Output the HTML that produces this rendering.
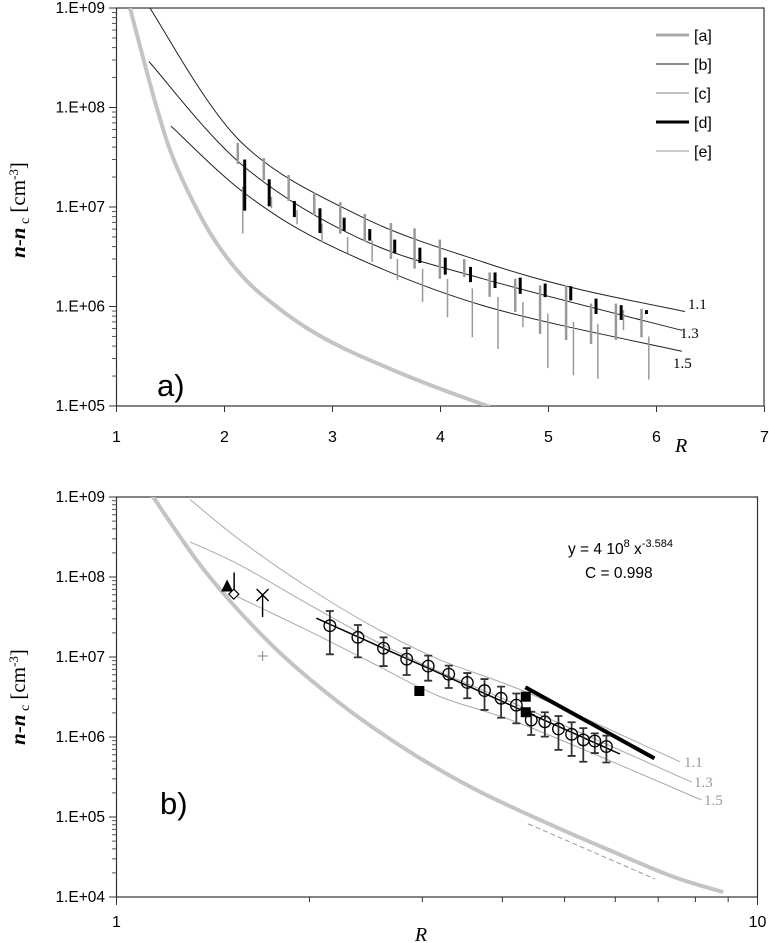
<!DOCTYPE html>
<html><head><meta charset="utf-8"><style>
html,body{margin:0;padding:0;background:#fff;}
svg{display:block;font-family:"Liberation Sans",sans-serif;}
</style></head><body>
<svg id="chart" width="769" height="943" viewBox="0 0 769 943" xmlns="http://www.w3.org/2000/svg">
<defs>
<clipPath id="clipA"><rect x="116.5" y="8" width="647.5" height="398"/></clipPath>
<clipPath id="clipB"><rect x="116.5" y="497" width="641" height="400"/></clipPath>
</defs>
<g id="panelA"></g>
<g id="panelB"></g>
</svg>
<script>
// ---------- Panel a data ----------
const aGrayR = [1.125,1.372,1.557,1.866,2.171,2.483,2.792,3.097,3.409,3.718,4.023,4.458];
const aGrayV = [1.0e9,1.0e8,2.54e7,5.5e6,1.98e6,9.95e5,5.8e5,3.83e5,2.7e5,1.95e5,1.45e5,9.8e4];
const a11R = [1.292,2.144,3.255,4.394,5.273,6.264];
const a11V = [1.07e9,4.6e7,8.1e6,2.8e6,1.5e6,8.9e5];
const a13R = [1.30,2.171,3.255,4.394,6.236];
const a13V = [2.9e8,2.6e7,4.8e6,1.9e6,5.75e5];
const a15R = [1.505,2.208,3.042,4.394,6.236];
const a15V = [6.5e7,1.32e7,3.8e6,1.02e6,3.55e5];
const dR = [2.187,2.414,2.647,2.884,3.108,3.345,3.576,3.809,4.044,4.278,4.505,4.738,4.969,5.206,5.44,5.673,5.907];
const dHi = [3.0e7,1.9e7,1.15e7,9.7e6,7.8e6,6.0e6,4.7e6,3.9e6,3.1e6,2.5e6,2.2e6,1.95e6,1.7e6,1.6e6,1.2e6,1.03e6,9.2e5];
const dLo = [9.4e6,1.04e7,8.1e6,5.6e6,5.9e6,4.7e6,3.5e6,2.8e6,2.14e6,1.8e6,1.57e6,1.37e6,1.27e6,1.18e6,8.6e5,7.5e5,8.6e5];
const cR = [2.123,2.364,2.594,2.831,3.072,3.299,3.541,3.76,3.994,4.22,4.455,4.692,4.922,5.163,5.394,5.624,5.861];
const cHi = [4.4e7,3.1e7,2.1e7,1.39e7,1.12e7,8.5e6,6.9e6,6.1e6,4.7e6,3.0e6,2.2e6,1.9e6,1.63e6,1.63e6,1.07e6,1.07e6,9.5e5];
const cLo = [2.7e7,1.86e7,1.15e7,8.3e6,5.4e6,4.5e6,3.0e6,2.4e6,1.9e6,1.98e6,1.25e6,8.8e5,5.3e5,4.6e5,4.2e5,4.6e5,4.9e5];
const eR = [2.169,2.435,2.672,2.903,3.14,3.367,3.601,3.834,4.065,4.295,4.532,4.763,4.994,5.231,5.457,5.694,5.929];
const eHi = [1.6e7,1.26e7,9.3e6,6.8e6,5.0e6,4.6e6,3.0e6,2.4e6,1.9e6,1.52e6,1.25e6,1.11e6,8.5e5,7.0e5,6.7e5,9.2e5,5.0e5];
const eLo = [5.4e6,9.7e6,6.7e6,4.4e6,3.45e6,2.8e6,1.84e6,1.11e6,7.8e5,4.9e5,3.75e5,6.2e5,2.4e5,2.03e5,1.88e5,5.8e5,1.84e5];
const aXTicks = [1,2,3,4,5,6,7];
const aYTicks = [1e5,1e6,1e7,1e8,1e9];
const aYLabels = ["1.E+05","1.E+06","1.E+07","1.E+08","1.E+09"];
const legendLabels = ["[a]","[b]","[c]","[d]","[e]"];

// ---------- Panel b data ----------
const bGrayR = [1.135,1.383,1.757,2.232,2.836,3.603,4.578,5.817,7.391,8.845];
const bGrayV = [1.06e9,1.11e8,1.35e7,2.63e6,6.9e5,2.28e5,9.2e4,3.98e4,1.79e4,1.15e4];
const b11R = [1.302,1.558,1.98,2.515,3.196,4.37,7.57];
const b11V = [9.3e8,2.9e8,7.6e7,2.39e7,9.2e6,3.6e6,4.9e5];
const b13R = [1.302,1.558,1.98,2.515,3.196,4.37,7.90];
const b13V = [2.75e8,1.41e8,4.7e7,1.63e7,6.5e6,2.24e6,2.72e5];
const b15R = [1.524,1.98,2.515,3.196,4.37,8.18];
const b15V = [5.96e7,2.18e7,8.3e6,3.2e6,1.37e6,1.63e5];
const circR = [2.152,2.38,2.61,2.836,3.064,3.298,3.526,3.751,3.981,4.205,4.436,4.658,4.892,5.129,5.348,5.574,5.811];
const circV = [2.46e7,1.76e7,1.29e7,9.4e6,7.7e6,6.1e6,4.8e6,3.8e6,3.05e6,2.5e6,1.63e6,1.55e6,1.26e6,1.08e6,9.2e5,8.9e5,7.6e5];
const circHi = [3.76e7,2.51e7,1.76e7,1.29e7,1.04e7,7.8e6,6.3e6,5.3e6,4.26e6,3.5e6,2.07e6,2.04e6,1.83e6,1.53e6,1.29e6,1.11e6,1.04e6];
const circLo = [1.08e7,9.9e6,7.7e6,5.96e6,5.06e6,4.1e6,3.05e6,2.18e6,1.74e6,1.48e6,1.06e6,1.01e6,6.9e5,5.8e5,4.9e5,6.3e5,4.8e5];
const fitCoef = 4e8;
const fitExp = -3.584;
const fitRange = [2.05,6.1];
const thickR = [4.343,6.906];
const thickV = [4.18e6,5.4e5];
const squareR = [2.968,4.35,4.35];
const squareV = [3.76e6,3.19e6,2.04e6];
const triR = [1.488]; const triV = [7.6e7];
const diaR = [1.524]; const diaV = [6.1e7];
const crossR = [1.69]; const crossV = [5.96e7];
const plusR = [1.69]; const plusV = [1.03e7];
const dashR = [4.39,6.92]; const dashV = [8.2e4,1.68e4];
const bYTicks = [1e4,1e5,1e6,1e7,1e8,1e9];
const bYLabels = ["1.E+04","1.E+05","1.E+06","1.E+07","1.E+08","1.E+09"];

// ---------- axes ----------
const L = Math.log10;
const xA = r => 116.5 + (r-1)*108;
const yA = v => 8 + (9-L(v))*99.5;
const xB = r => 116.5 + L(r)*641;
const yB = v => 497 + (9-L(v))*80;
const NS = "http://www.w3.org/2000/svg";
function mk(parent, tag, attrs, text){
  const e = document.createElementNS(NS, tag);
  for (const k in attrs) e.setAttribute(k, attrs[k]);
  if (text !== undefined) e.textContent = text;
  parent.appendChild(e);
  return e;
}
function spline(pts){
  let d = "M"+pts[0][0].toFixed(1)+","+pts[0][1].toFixed(1);
  for (let i=0;i<pts.length-1;i++){
    const p0=pts[Math.max(0,i-1)], p1=pts[i], p2=pts[i+1], p3=pts[Math.min(pts.length-1,i+2)];
    const c1=[p1[0]+(p2[0]-p0[0])/6, p1[1]+(p2[1]-p0[1])/6];
    const c2=[p2[0]-(p3[0]-p1[0])/6, p2[1]-(p3[1]-p1[1])/6];
    d += " C"+c1[0].toFixed(1)+","+c1[1].toFixed(1)+" "+c2[0].toFixed(1)+","+c2[1].toFixed(1)+" "+p2[0].toFixed(1)+","+p2[1].toFixed(1);
  }
  return d;
}
function curve(g, R, V, fx, fy, stroke, w, name){
  const pts = R.map((r,i)=>[fx(r), fy(V[i])]);
  const p = mk(g, "path", {d: spline(pts), fill:"none", stroke: stroke, "stroke-width": w});
  
  
  return p;
}
const yTitleHTML = '<tspan font-style="italic" font-weight="bold">n</tspan>-<tspan font-style="italic" font-weight="bold">n</tspan><tspan font-size="14" dy="4"> c</tspan><tspan dy="-4">  [cm</tspan><tspan font-size="13" dy="-7">-3</tspan><tspan dy="7">]</tspan>';

// ---------- Panel a ----------
const A = document.getElementById("panelA");
const frameA = mk(A, "rect", {x:116.5,y:8,width:647.5,height:398,fill:"none",stroke:"#333","stroke-width":1.2});


aYTicks.forEach((t,i)=>{
  const y = yA(t);
  const tk = mk(A,"line",{x1:109,x2:116.5,y1:y,y2:y,stroke:"#333"});
  
  
  const lb = mk(A,"text",{x:105,y:y+5,"text-anchor":"end","font-size":15.5,fill:"#000"}, aYLabels[i]);
  
  
  if (i < aYTicks.length-1) for (let m=2;m<10;m++){
    const ym = yA(t*m);
    const mt = mk(A,"line",{x1:112,x2:116.5,y1:ym,y2:ym,stroke:"#555"});
    
    
  }
});
aXTicks.forEach(t=>{
  const x = xA(t);
  const tk = mk(A,"line",{x1:x,x2:x,y1:406,y2:412,stroke:"#333"});
  
  
  const lb = mk(A,"text",{x:x,y:442,"text-anchor":"middle","font-size":16}, String(t));
  
  
});
const gA = mk(A,"g",{"clip-path":"url(#clipA)"});


curve(gA, aGrayR, aGrayV, xA, yA, "#c4c4c4", 4, "curve-a-limit");
curve(gA, a11R, a11V, xA, yA, "#222", 1, "curve-1-1");
curve(gA, a13R, a13V, xA, yA, "#222", 1, "curve-1-3");
curve(gA, a15R, a15V, xA, yA, "#222", 1, "curve-1-5");
eR.forEach((r,i)=>{
  const b = mk(gA,"line",{x1:xA(r),x2:xA(r),y1:yA(eHi[i]),y2:yA(eLo[i]),stroke:"#9a9a9a","stroke-width":1.5});
  
  
});
cR.forEach((r,i)=>{
  const b = mk(gA,"line",{x1:xA(r),x2:xA(r),y1:yA(cHi[i]),y2:yA(cLo[i]),stroke:"#999","stroke-width":2.5});
  
  
});
dR.forEach((r,i)=>{
  const b = mk(gA,"line",{x1:xA(r),x2:xA(r),y1:yA(dHi[i]),y2:yA(dLo[i])+1,stroke:"#000","stroke-width":3});
  
  
});
[["1.1",688,309],["1.3",680,338],["1.5",673,368]].forEach(l=>{
  const t = mk(A,"text",{x:l[1],y:l[2],"font-family":"Liberation Serif, serif","font-size":15}, l[0]);
  
  
});
const legStyles = [["#aaa",3],["#666",1.5],["#aaa",1.5],["#000",3],["#aaa",1.2]];
legendLabels.forEach((s,i)=>{
  const y = 35 + i*29;
  const ln = mk(A,"line",{x1:656,x2:689,y1:y,y2:y,stroke:legStyles[i][0],"stroke-width":legStyles[i][1]});
  
  
  const t = mk(A,"text",{x:694,y:y+6,"font-size":16}, s);
  
  
});
const labA = mk(A,"text",{x:157,y:396,"font-size":31}, "a)");


const xtA = mk(A,"text",{x:675,y:452,"font-family":"Liberation Serif, serif","font-style":"italic","font-size":20}, "R");


const ytA = mk(A,"text",{transform:"translate(25,210) rotate(-90)","text-anchor":"middle","font-family":"Liberation Serif, serif","font-size":21});


ytA.innerHTML = yTitleHTML;

// ---------- Panel b ----------
const B = document.getElementById("panelB");
const frameB = mk(B, "rect", {x:116.5,y:497,width:641,height:400,fill:"none",stroke:"#333","stroke-width":1.2});


bYTicks.forEach((t,i)=>{
  const y = yB(t);
  const tk = mk(B,"line",{x1:109,x2:116.5,y1:y,y2:y,stroke:"#333"});
  
  
  const lb = mk(B,"text",{x:105,y:y+5,"text-anchor":"end","font-size":15.5}, bYLabels[i]);
  
  
  if (i < bYTicks.length-1) for (let m=2;m<10;m++){
    const ym = yB(t*m);
    const mt = mk(B,"line",{x1:112,x2:116.5,y1:ym,y2:ym,stroke:"#555"});
    
    
  }
});
for (let m=1;m<=10;m++){
  const x = xB(m);
  const tk = mk(B,"line",{x1:x,x2:x,y1:897,y2:(m===1||m===10)?905:902,stroke:"#333"});
  
  
}
[[1,"1"],[10,"10"]].forEach(p=>{
  const lb = mk(B,"text",{x:xB(p[0]),y:927,"text-anchor":"middle","font-size":16}, p[1]);
  
  
});
const gB = mk(B,"g",{"clip-path":"url(#clipB)"});


curve(gB, bGrayR, bGrayV, xB, yB, "#c4c4c4", 4, "curve-b-limit");
curve(gB, b11R, b11V, xB, yB, "#aaa", 1, "curve-b-1-1");
curve(gB, b13R, b13V, xB, yB, "#aaa", 1, "curve-b-1-3");
curve(gB, b15R, b15V, xB, yB, "#aaa", 1, "curve-b-1-5");
const dl = mk(gB,"line",{x1:xB(dashR[0]),y1:yB(dashV[0]),x2:xB(dashR[1]),y2:yB(dashV[1]),stroke:"#999","stroke-width":1,"stroke-dasharray":"5,3"});


const fitPts = [];
for (let k=0;k<=20;k++){ const r = fitRange[0]*Math.pow(fitRange[1]/fitRange[0],k/20); fitPts.push(xB(r).toFixed(1)+","+yB(fitCoef*Math.pow(r,fitExp)).toFixed(1)); }
const fit = mk(gB,"polyline",{points:fitPts.join(" "),fill:"none",stroke:"#000","stroke-width":1.5});


const thick = mk(gB,"line",{x1:xB(thickR[0]),y1:yB(thickV[0]),x2:xB(thickR[1]),y2:yB(thickV[1]),stroke:"#000","stroke-width":4});


circR.forEach((r,i)=>{
  const x = xB(r), y1 = yB(circHi[i]), y2 = yB(circLo[i]);
  const eb = mk(gB,"path",{d:`M${x},${y1}V${y2}M${x-4},${y1}H${x+4}M${x-4},${y2}H${x+4}`,stroke:"#333","stroke-width":1.8,fill:"none"});
  
  
  const c = mk(gB,"circle",{cx:x,cy:yB(circV[i]),r:5.8,fill:"none",stroke:"#000","stroke-width":1.3});
  
  
});
squareR.forEach((r,i)=>{
  const s = mk(gB,"rect",{x:xB(r)-5,y:yB(squareV[i])-5,width:10,height:10,fill:"#000"});
  
  
});
triR.forEach((r,i)=>{
  const x=xB(r), y=yB(triV[i]);
  const t = mk(gB,"path",{d:`M${x},${y-7}L${x+6},${y+5}L${x-6},${y+5}Z`,fill:"#000"});
  
  
  const v = mk(gB,"line",{x1:x+7,x2:x+7,y1:y-14,y2:y+4,stroke:"#000","stroke-width":1.5});
  
  
});
diaR.forEach((r,i)=>{
  const x=xB(r), y=yB(diaV[i]);
  const d = mk(gB,"path",{d:`M${x},${y-5}L${x+5},${y}L${x},${y+5}L${x-5},${y}Z`,fill:"#fff",stroke:"#000","stroke-width":1.2});
  
  
});
crossR.forEach((r,i)=>{
  const x=xB(r), y=yB(crossV[i]);
  const c = mk(gB,"path",{d:`M${x-6},${y-6}L${x+6},${y+6}M${x+6},${y-6}L${x-6},${y+6}M${x},${y}V${y+22}`,stroke:"#000","stroke-width":1.4});
  
  
});
plusR.forEach((r,i)=>{
  const x=xB(r), y=yB(plusV[i]);
  const p = mk(gB,"path",{d:`M${x-5},${y}H${x+5}M${x},${y-5}V${y+5}`,stroke:"#999","stroke-width":1.2});
  
  
});
[["1.1",684,767],["1.3",694,787],["1.5",704,805]].forEach(l=>{
  const t = mk(B,"text",{x:l[1],y:l[2],"font-family":"Liberation Serif, serif","font-size":15,fill:"#999"}, l[0]);
  
  
});
const eq = mk(B,"text",{x:568,y:554,"font-size":15.5});


eq.innerHTML = 'y = 4 10<tspan font-size="11" dy="-7">8</tspan><tspan dy="7"> x</tspan><tspan font-size="11" dy="-7">-3.584</tspan>';
const cc = mk(B,"text",{x:585,y:578,"font-size":15.5}, "C = 0.998");


const labB = mk(B,"text",{x:160,y:814,"font-size":31}, "b)");


const xtB = mk(B,"text",{x:421,y:941,"text-anchor":"middle","font-family":"Liberation Serif, serif","font-style":"italic","font-size":20}, "R");


const ytB = mk(B,"text",{transform:"translate(25,697) rotate(-90)","text-anchor":"middle","font-family":"Liberation Serif, serif","font-size":21});


ytB.innerHTML = yTitleHTML;
</script>
</body></html>
